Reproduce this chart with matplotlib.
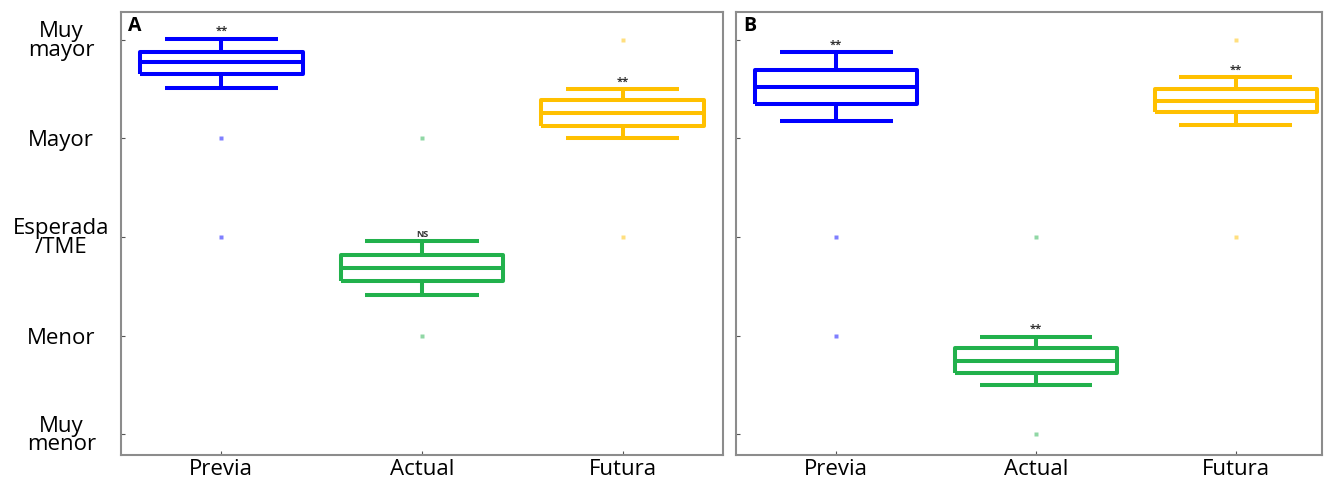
import matplotlib.pyplot as plt

plt.rcParams['font.family'] = ['Open Sans', 'DejaVu Sans']

groups = ["Previa", "Actual", "Futura"]
colors = ["#0000FF", "#22B14C", "#FFC000"]
level_labels = ["Muy\nmenor", "Menor", "Esperada\n/TME", "Mayor", "Muy\nmayor"]
levels = [1, 2, 3, 4, 5]

# panel A
a_whishi = [5.01, 2.96, 4.50]
a_q3 = [4.88, 2.82, 4.39]
a_med = [4.77, 2.69, 4.26]
a_q1 = [4.65, 2.55, 4.13]
a_whislo = [4.51, 2.41, 4.00]
a_fliers = [[4, 3], [4, 2], [5, 3]]
a_sig = ["**", "NS", "**"]

# panel B
b_whishi = [4.87, 1.99, 4.62]
b_q3 = [4.69, 1.87, 4.50]
b_med = [4.52, 1.74, 4.38]
b_q1 = [4.35, 1.62, 4.27]
b_whislo = [4.18, 1.50, 4.14]
b_fliers = [[3, 2], [3, 1], [5, 3]]
b_sig = ["**", "**", "**"]


def draw_panel(ax, letter, whishi, q3, med, q1, whislo, fliers, sig, xmax):
    for i in range(len(groups)):
        stats = [dict(med=med[i], q1=q1[i], q3=q3[i], whislo=whislo[i],
                      whishi=whishi[i], fliers=fliers[i])]
        c = colors[i]
        lp = dict(color=c, linewidth=2.9, solid_capstyle='butt')
        ax.bxp(stats, positions=[i + 1], widths=0.81, capwidths=0.565,
               boxprops=lp, whiskerprops=lp, capprops=lp, medianprops=lp,
               flierprops=dict(marker='s', markersize=2.5, markerfacecolor=c,
                               markeredgecolor='none', alpha=0.5),
               manage_ticks=False)
        fs = 6.5 if sig[i] == "NS" else 8
        ax.text(i + 1, whishi[i] + 0.015, sig[i], ha='center', va='bottom',
                fontsize=fs, fontweight='bold', color='#333333')
    ax.set_xlim(0.5, xmax)
    ax.set_ylim(0.79, 5.28)
    ax.set_xticks(range(1, len(groups) + 1))
    ax.set_xticklabels(groups, fontsize=16)
    ax.set_yticks(levels)
    ax.tick_params(direction='in', length=3, width=0.8, color='#555555')
    ax.tick_params(axis='x', pad=3)
    for s in ax.spines.values():
        s.set_color('#8c8c8c')
        s.set_linewidth(1.5)
    ax.text(0.012, 0.992, letter, transform=ax.transAxes, ha='left', va='top',
            fontsize=14, fontweight='bold')


fig = plt.figure(figsize=(13.25, 4.82), dpi=100)
ax_a = fig.add_axes([0.0913, 0.056, 0.4544, 0.919])
ax_b = fig.add_axes([0.5555, 0.056, 0.4422, 0.919])

draw_panel(ax_a, "A", a_whishi, a_q3, a_med, a_q1, a_whislo, a_fliers, a_sig, 3.5)
draw_panel(ax_b, "B", b_whishi, b_q3, b_med, b_q1, b_whislo, b_fliers, b_sig, 3.43)

ax_a.set_yticklabels(level_labels, fontsize=16, linespacing=0.85, ha='center')
ax_a.tick_params(axis='y', pad=43)
ax_b.set_yticklabels([])

fig.savefig("out.png", dpi=100)
